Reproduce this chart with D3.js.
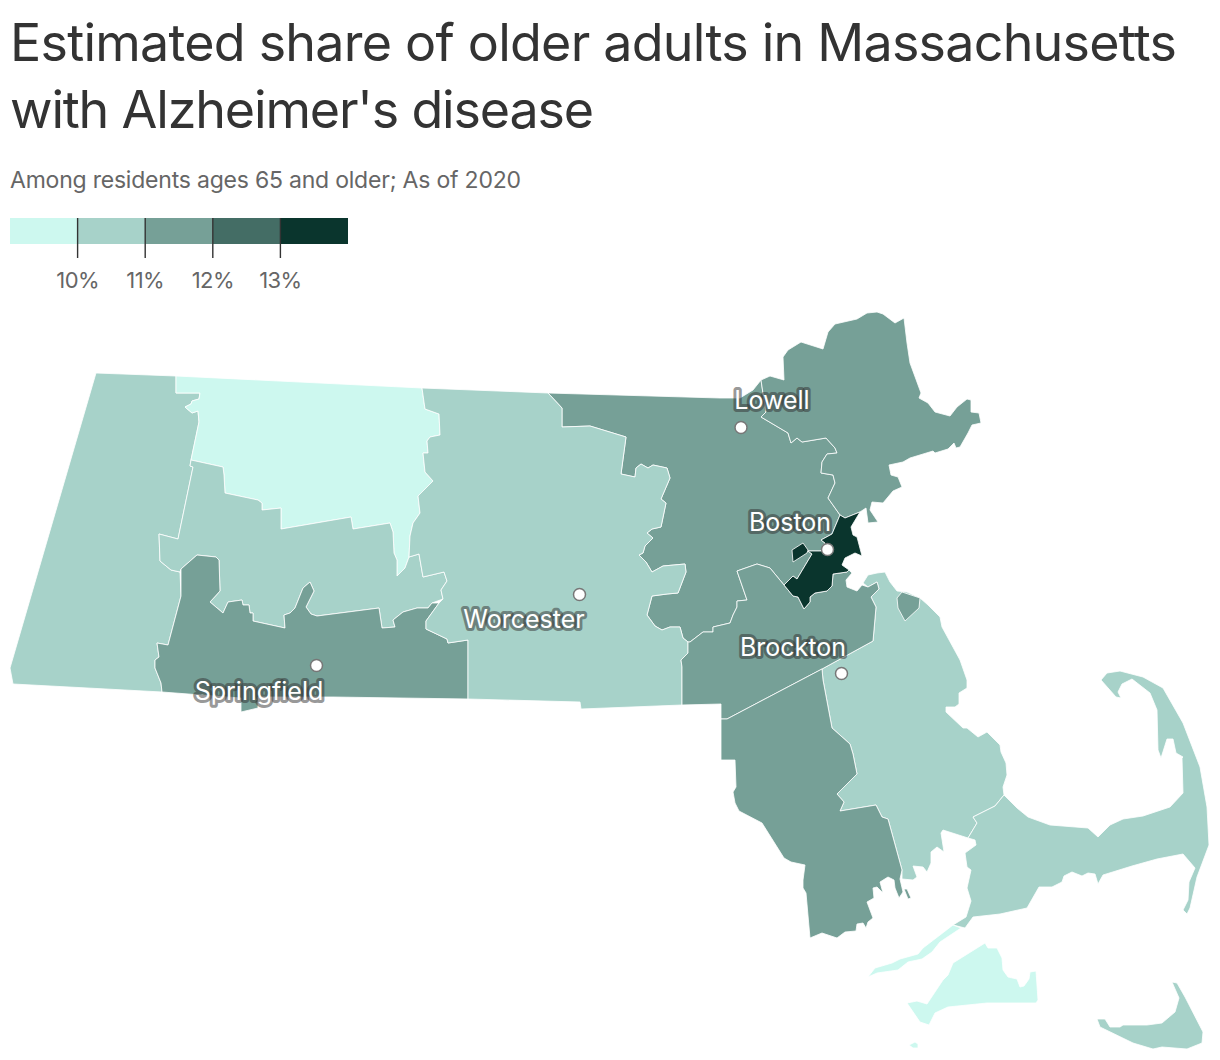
<!DOCTYPE html>
<html>
<head>
<meta charset="utf-8">
<script src="https://cdn.jsdelivr.net/npm/d3@7"></script>
<style>
  body { margin: 0; background: #fff; }
  text { font-family: Inter, "Noto Sans", sans-serif; }
</style>
</head>
<body>
<svg id="chart" width="1220" height="1060"></svg>
<script>
// share of residents 65+ with Alzheimer's (percent)
var binEdges = [10, 11, 12, 13];
var binColors = ["#cdf8ef", "#a7d2c9", "#76a097", "#446d65", "#0a352d"];
var tickLabels = ["10%", "11%", "12%", "13%"];

// Norfolk after Plymouth so the Hingham piece stays on top
var countyNames = ["Middlesex", "Berkshire", "Franklin", "Hampshire", "Hampden", "Worcester", "Essex", "Plymouth", "Norfolk", "Bristol", "Barnstable", "Dukes", "Nantucket", "Suffolk"];
var countyShares = [11.5, 10.5, 9.6, 10.5, 11.5, 10.5, 11.5, 10.5, 11.5, 11.5, 10.5, 9.6, 10.5, 13.5];

// outlines, in map grid units
var middlesex = [[548,393],[720,398],[740,398],[753,390],[761,380],[764,400],[766,412],[761,417],[788,433],[791,443],[797,438],[802,442],[826,438],[835,448],[837,453],[827,454],[822,462],[821,473],[833,475],[835,483],[828,498],[840,515],[832,534],[821,540],[825,543],[821,551],[808,551],[812,554],[797,579],[793,576],[784,585],[770,568],[757,564],[737,571],[747,600],[737,601],[737,607],[733,615],[730,623],[713,627],[713,632],[703,632],[690,642],[688,642],[683,638],[680,627],[670,627],[662,630],[655,626],[647,615],[652,596],[667,594],[678,593],[686,572],[685,564],[663,566],[652,572],[646,562],[639,555],[643,553],[645,546],[653,538],[647,533],[652,529],[661,527],[666,503],[661,499],[670,478],[667,468],[653,465],[648,468],[641,464],[636,468],[635,477],[621,474],[626,437],[590,426],[562,427],[562,408]];
var berkshire = [[96,373],[176,376],[176,393],[200,393],[199,399],[192,401],[191,404],[185,407],[192,413],[198,411],[199,422],[191,460],[190,466],[193,467],[178,539],[159,534],[160,561],[171,570],[180,572],[181,596],[168,645],[157,643],[159,657],[155,660],[155,668],[161,683],[162,692],[13,684],[10,668]];
var franklin = [[176,376],[422,388],[425,409],[439,414],[440,435],[430,437],[427,441],[428,453],[423,453],[425,472],[433,481],[418,496],[420,513],[413,523],[410,536],[409,557],[405,568],[397,576],[397,560],[394,553],[393,532],[390,523],[353,529],[351,517],[281,529],[281,508],[262,510],[262,503],[258,500],[225,493],[224,475],[223,467],[191,460],[199,422],[198,411],[192,413],[185,407],[191,404],[192,401],[199,399],[200,393],[176,393]];
var hampshire = [[191,460],[223,467],[224,475],[225,493],[258,500],[262,503],[262,510],[281,508],[281,529],[351,517],[353,529],[390,523],[393,532],[394,553],[397,560],[397,576],[405,568],[409,557],[419,554],[423,577],[444,572],[447,581],[441,590],[443,599],[432,603],[428,608],[417,608],[403,612],[393,620],[395,627],[382,628],[379,608],[317,616],[311,614],[306,607],[314,591],[310,582],[303,588],[295,608],[290,613],[284,615],[285,628],[253,621],[253,613],[250,613],[249,605],[243,605],[242,600],[228,602],[223,613],[210,602],[220,591],[219,560],[216,557],[197,555],[181,569],[180,572],[171,570],[160,561],[159,534],[178,539],[193,467],[190,466]];
var hampden = [[181,569],[197,555],[216,557],[219,560],[220,591],[210,602],[223,613],[228,602],[242,600],[243,605],[249,605],[250,613],[253,613],[253,621],[285,628],[284,615],[290,613],[295,608],[303,588],[310,582],[314,591],[306,607],[311,614],[317,616],[379,608],[382,628],[395,627],[393,620],[403,612],[417,608],[428,608],[432,603],[439,603],[426,621],[426,629],[447,639],[448,643],[468,640],[468,699],[333,697],[258,697],[258,708],[241,712],[241,698],[162,692],[161,683],[155,668],[155,660],[159,657],[157,643],[168,645],[181,596]];
var worcester = [[422,388],[548,393],[562,408],[562,427],[590,426],[626,437],[621,474],[635,477],[636,468],[641,464],[648,468],[653,465],[667,468],[670,478],[661,499],[666,503],[661,527],[652,529],[647,533],[653,538],[645,546],[643,553],[639,555],[646,562],[652,572],[663,566],[685,564],[686,572],[678,593],[667,594],[652,596],[647,615],[655,626],[662,630],[670,627],[680,627],[683,638],[688,642],[688,653],[681,660],[682,667],[682,705],[581,709],[580,702],[468,699],[468,640],[448,643],[447,639],[426,629],[426,621],[439,603],[443,599],[441,590],[447,581],[444,572],[423,577],[419,554],[409,557],[410,536],[413,523],[420,513],[418,496],[433,481],[425,472],[423,453],[428,453],[427,441],[430,437],[440,435],[439,414],[425,409]];
var essex = [[761,380],[770,376],[784,380],[783,357],[788,350],[801,342],[823,349],[828,332],[835,324],[857,319],[867,313],[877,312],[883,314],[895,323],[904,318],[907,343],[910,363],[921,393],[919,398],[928,403],[935,412],[950,416],[957,407],[967,399],[971,400],[971,412],[979,413],[981,423],[972,425],[968,433],[960,447],[956,448],[954,443],[948,449],[935,453],[933,451],[910,458],[903,462],[889,465],[891,475],[898,477],[902,487],[893,491],[883,503],[872,502],[870,510],[878,522],[868,523],[866,508],[860,512],[845,518],[840,515],[828,498],[835,483],[833,475],[821,473],[822,462],[827,454],[837,453],[835,448],[826,438],[802,442],[797,438],[791,443],[788,433],[761,417],[766,412],[764,400]];
var norfolk = [[784,585],[793,596],[798,597],[804,609],[810,602],[810,597],[815,593],[827,591],[832,586],[833,574],[847,572],[849,570],[852,573],[846,580],[847,587],[857,591],[862,585],[868,587],[877,582],[879,589],[871,597],[876,607],[873,641],[822,669],[763,700],[727,719],[721,719],[721,704],[682,705],[682,667],[681,660],[688,653],[688,642],[690,642],[703,632],[713,632],[713,627],[730,623],[733,615],[737,607],[737,601],[747,600],[737,571],[757,564],[770,568]];
var plymouth = [[863,583],[868,575],[877,573],[885,572],[890,582],[897,591],[907,592],[920,598],[928,605],[940,617],[942,627],[960,660],[967,680],[967,688],[959,693],[959,704],[955,707],[946,707],[946,712],[963,728],[967,728],[978,737],[987,732],[1000,745],[1001,752],[1006,763],[1007,775],[1003,787],[1004,795],[995,806],[973,817],[977,823],[968,838],[943,830],[941,833],[944,852],[937,847],[931,852],[931,863],[927,872],[923,867],[913,866],[917,877],[913,880],[902,879],[902,870],[888,819],[882,817],[876,805],[840,811],[844,802],[837,794],[857,774],[853,754],[850,744],[832,728],[823,680],[822,669],[873,641],[876,607],[871,597],[879,589],[877,582],[868,587]];
var bristol = [[721,719],[727,719],[763,700],[822,669],[823,680],[832,728],[850,744],[853,754],[857,774],[837,794],[844,802],[840,811],[876,805],[882,817],[888,819],[902,870],[900,879],[903,892],[899,898],[895,888],[894,880],[888,877],[880,882],[883,893],[877,887],[873,888],[874,898],[867,902],[873,918],[868,922],[866,928],[863,923],[857,924],[856,931],[845,932],[837,938],[822,933],[810,938],[806,893],[803,888],[803,880],[805,865],[791,862],[784,858],[762,823],[739,811],[735,803],[733,792],[736,787],[735,760],[721,760]];
var bristolIsle = [[904,889],[907,889],[911,898],[908,899]];
var barnstable = [[1004,795],[1017,808],[1028,817],[1050,825],[1088,828],[1098,837],[1110,825],[1123,819],[1143,816],[1170,807],[1183,793],[1182,758],[1183,757],[1176,753],[1173,739],[1167,739],[1161,758],[1158,750],[1157,710],[1150,693],[1132,679],[1122,684],[1118,692],[1121,698],[1116,697],[1101,680],[1107,673],[1120,671],[1143,677],[1163,688],[1183,723],[1200,767],[1207,807],[1209,845],[1197,877],[1190,908],[1187,914],[1183,910],[1188,900],[1189,882],[1195,868],[1183,854],[1157,859],[1132,866],[1103,875],[1098,884],[1095,874],[1088,873],[1082,876],[1072,872],[1064,876],[1062,882],[1052,887],[1039,887],[1027,908],[1000,914],[973,917],[965,928],[953,925],[966,917],[971,901],[967,888],[971,870],[967,867],[965,853],[976,845],[975,840],[968,838],[977,823],[973,817],[995,806]];
var elizabethIslands = [[868,977],[875,968],[892,963],[900,959],[918,954],[923,948],[940,935],[953,925],[961,928],[940,942],[932,952],[922,959],[908,962],[898,970],[877,973]];
var marthasVineyard = [[907,1003],[917,1001],[927,1004],[943,980],[948,975],[953,963],[985,943],[988,948],[997,948],[1002,958],[1003,970],[1008,977],[1017,979],[1020,987],[1024,986],[1029,979],[1030,972],[1036,971],[1038,1000],[1036,1003],[987,1003],[948,1007],[935,1013],[929,1025],[920,1022]];
var nomansLand = [[909,1045],[915,1042],[918,1044],[918,1048],[913,1048]];
var nantucket = [[1097,1019],[1105,1019],[1110,1027],[1120,1027],[1123,1025],[1147,1025],[1162,1023],[1175,1012],[1179,998],[1172,982],[1177,983],[1185,997],[1203,1032],[1202,1043],[1187,1049],[1162,1047],[1153,1049],[1133,1043],[1100,1027]];
var suffolk = [[840,515],[845,518],[860,512],[851,527],[853,535],[857,537],[862,556],[855,553],[845,558],[842,565],[849,570],[847,572],[833,574],[832,586],[827,591],[815,593],[810,597],[810,602],[804,609],[798,597],[793,596],[784,585],[793,576],[797,579],[812,554],[808,551],[821,551],[825,543],[821,540],[832,534]];
var suffolkPatch = [[792,550],[803,543],[808,550],[807,553],[793,562]];
var hingham = [[897,598],[902,592],[920,598],[919,608],[905,621],[898,608]];

// county name -> its rings (islands and enclaves included)
var countyRings = {
    Middlesex: [middlesex], Berkshire: [berkshire], Franklin: [franklin], Hampshire: [hampshire],
    Hampden: [hampden], Worcester: [worcester], Essex: [essex], Norfolk: [norfolk, hingham],
    Plymouth: [plymouth], Bristol: [bristol, bristolIsle], Barnstable: [barnstable],
    Dukes: [elizabethIslands, marthasVineyard, nomansLand], Nantucket: [nantucket],
    Suffolk: [suffolk, suffolkPatch]
};

var cityNames = ["Lowell", "Boston", "Worcester", "Brockton", "Springfield"];
var cityPoints = [[741,427.5], [827.5,549.5], [579.5,594.5], [841.5,673.5], [316.5,665.5]];
var cityLabelPoints = [[772,408.5], [790,530.5], [524,627.5], [793,655.5], [259,699.5]];

var svg = d3.select("#chart");

// title block
svg.append("text").attr("x", 10).attr("y", 61)
    .attr("textLength", 1167).attr("lengthAdjust", "spacing")
    .style("font-size", "52px").style("font-weight", 440).style("fill", "#333")
    .text("Estimated share of older adults in Massachusetts");
svg.append("text").attr("x", 10).attr("y", 128)
    .attr("textLength", 584).attr("lengthAdjust", "spacing")
    .style("font-size", "52px").style("font-weight", 440).style("fill", "#333")
    .text("with Alzheimer's disease");
svg.append("text").attr("x", 10).attr("y", 188)
    .attr("textLength", 511).attr("lengthAdjust", "spacing")
    .style("font-size", "23px").style("fill", "#666")
    .text("Among residents ages 65 and older; As of 2020");

// legend
var color = d3.scaleThreshold().domain(binEdges).range(binColors);
var legendX = d3.scaleLinear().domain([9, 14]).range([10, 348]);
var legendBins = d3.range(9, 14);

var legend = svg.append("g").attr("transform", "translate(0,218)");
legend.selectAll("rect").data(legendBins).enter().append("rect")
    .attr("x", function (d) { return legendX(d); })
    .attr("width", function (d) { return legendX(d + 1) - legendX(d); })
    .attr("height", 26)
    .attr("fill", function (d) { return color(d + 0.5); });

var legendAxis = d3.axisBottom(legendX)
    .tickValues(binEdges)
    .tickFormat(function (d, i) { return tickLabels[i]; })
    .tickSize(40)
    .tickPadding(14)
    .offset(0);
var axisG = legend.append("g").call(legendAxis);
axisG.select(".domain").remove();
axisG.selectAll("line").attr("stroke", "#333").attr("stroke-width", 1.4);
axisG.selectAll("text").style("font-size", "22px").style("fill", "#666")
    .style("font-family", "Inter, sans-serif").style("letter-spacing", "-0.6px");

// map
var features = countyNames.map(function (name, i) {
    return {
        type: "Feature",
        properties: { name: name, share: countyShares[i] },
        geometry: {
            type: "MultiPolygon",
            coordinates: countyRings[name].map(function (r) { return [r.concat([r[0]])]; })
        }
    };
});
var path = d3.geoPath(d3.geoIdentity());

svg.append("g").selectAll("path").data(features).enter().append("path")
    .attr("d", path)
    .attr("fill", function (d) { return color(d.properties.share); })
    .attr("stroke", "#fff")
    .attr("stroke-width", 0.8)
    .attr("stroke-linejoin", "round");

// cities
svg.append("g").selectAll("circle").data(cityPoints).enter().append("circle")
    .attr("cx", function (d) { return d[0]; })
    .attr("cy", function (d) { return d[1]; })
    .attr("r", 6)
    .attr("fill", "#fff")
    .attr("stroke", "#777")
    .attr("stroke-width", 1.5);

svg.append("g").selectAll("text").data(cityNames).enter().append("text")
    .attr("x", function (d, i) { return cityLabelPoints[i][0]; })
    .attr("y", function (d, i) { return cityLabelPoints[i][1]; })
    .attr("text-anchor", "middle")
    .style("font-size", "25px")
    .style("fill", "#fff")
    .style("stroke", "rgba(51,51,51,0.5)")
    .style("stroke-width", "6px")
    .style("stroke-linejoin", "round")
    .style("paint-order", "stroke")
    .text(function (d) { return d; });
</script>
</body>
</html>
